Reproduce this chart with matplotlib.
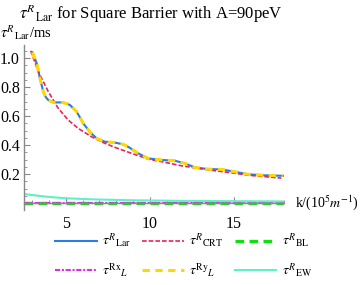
import matplotlib
matplotlib.use("Agg")
import matplotlib.pyplot as plt
from matplotlib.ticker import MultipleLocator

plt.rcParams['font.family'] = ['Liberation Serif', 'DejaVu Serif']
plt.rcParams['mathtext.fontset'] = 'stix'

# values
k_lar = [3.0, 3.26, 3.45, 3.65, 3.8, 3.95, 4.24, 4.74, 5.0, 5.24, 5.64, 6.03, 6.43,
         6.83, 7.32, 7.92, 8.41, 8.71, 9.3, 9.9, 10.7, 11.49, 12.08, 12.68, 13.47,
         14.27, 15.06, 15.85, 16.85, 17.93]
tau_lar = [1.04, 0.963, 0.86, 0.768, 0.73, 0.71, 0.694, 0.694, 0.688, 0.676, 0.63,
           0.55, 0.49, 0.446, 0.423, 0.417, 0.405, 0.388, 0.343, 0.308, 0.297, 0.292,
           0.274, 0.246, 0.234, 0.232, 0.216, 0.198, 0.191, 0.188]
tau_ry = tau_lar  # same curve as Lar

k_crt = [2.9, 3.35, 3.95, 4.54, 5.14, 5.73, 6.53, 7.32, 7.92, 8.91, 9.9, 10.89,
         11.89, 12.88, 13.87, 14.86, 15.85, 16.85, 17.84]
tau_crt = [1.05, 0.906, 0.768, 0.653, 0.572, 0.515, 0.457, 0.412, 0.384, 0.343,
           0.303, 0.281, 0.257, 0.239, 0.223, 0.209, 0.192, 0.182, 0.172]

k_zero = [2.5, 18.0]
tau_bl = [0.0, 0.0]
tau_rx = [0.0, 0.0]

k_ew = [2.5, 3.0, 3.5, 4.0, 5.0, 6.0, 7.0, 9.0, 12.0, 15.0, 18.0]
tau_ew = [0.062, 0.055, 0.048, 0.042, 0.033, 0.028, 0.024, 0.019, 0.015, 0.013, 0.011]

fig = plt.figure(figsize=(3.6, 2.85), dpi=100)
ax = fig.add_axes([24 / 360, 75 / 285, 260 / 360, 165 / 285])

l_lar, = ax.plot(k_lar, tau_lar, color='#2a7de1', lw=1.5)
l_crt, = ax.plot(k_crt, tau_crt, color='#e8245a', lw=1.2, dashes=(2.8, 1.2))
l_bl, = ax.plot(k_zero, tau_bl, color='#10e010', lw=2.4, dashes=(2.6, 1.6))
l_rx, = ax.plot(k_zero, tau_rx, color='#d830e8', lw=1.5, dashes=(2.5, 0.8, 1, 0.8))
l_ry, = ax.plot(k_lar, tau_ry, color='#ffd800', lw=2.2, dashes=(2.4, 1.8))
l_ew, = ax.plot(k_ew, tau_ew, color='#60f0c8', lw=1.5)

ax.set_xlim(2.5, 18.0)
ax.set_ylim(-0.048, 1.09)
for s in ['top', 'right']:
    ax.spines[s].set_visible(False)
ax.spines['bottom'].set_position(('data', 0))
for s in ['left', 'bottom']:
    ax.spines[s].set_color('#888888')
    ax.spines[s].set_linewidth(1.0)

ax.set_xticks([5, 10, 15])
ax.set_yticks([0.2, 0.4, 0.6, 0.8, 1.0])
ax.set_yticklabels(['0.2', '0.4', '0.6', '0.8', '1.0'])
ax.xaxis.set_minor_locator(MultipleLocator(1))
ax.yaxis.set_minor_locator(MultipleLocator(0.05))
ax.tick_params(which='both', direction='in', colors='#888888', labelcolor='black',
               labelsize=11.5)
ax.tick_params(which='major', length=4, width=0.8)
ax.tick_params(which='minor', length=2, width=0.6)
ax.tick_params(axis='x', pad=9)
ax.tick_params(axis='y', pad=3)

fig.text(151 / 360, 1 - 14 / 285,
         r'$\tau^{R}{}_{\mathrm{Lar}}$ for Square Barrier with A=90peV',
         ha='center', va='center', fontsize=12)
fig.text(0 / 360, 1 - 33 / 285, r'$\tau^{R}{}_{\mathrm{Lar}}$/ms',
         ha='left', va='center', fontsize=10.5)
fig.text(359 / 360, 1 - 203 / 285, r'k/(10$^5$$m^{-1}$)',
         ha='right', va='center', fontsize=10)

handles = [l_lar, l_rx, l_crt, l_ry, l_bl, l_ew]
labels = [r'$\tau^{R}{}_{\mathrm{Lar}}$', r'$\tau^{\mathrm{Rx}}{}_{L}$',
          r'$\tau^{R}{}_{\mathrm{CRT}}$', r'$\tau^{\mathrm{Ry}}{}_{L}$',
          r'$\tau^{R}{}_{\mathrm{BL}}$', r'$\tau^{R}{}_{\mathrm{EW}}$']
fig.legend(handles, labels, ncol=3, loc='upper center', bbox_to_anchor=(0.51, 0.23),
           frameon=False, fontsize=10, handlelength=3.0, handletextpad=0.4,
           columnspacing=0.8, labelspacing=0.8)

fig.savefig('out.png', dpi=100)
